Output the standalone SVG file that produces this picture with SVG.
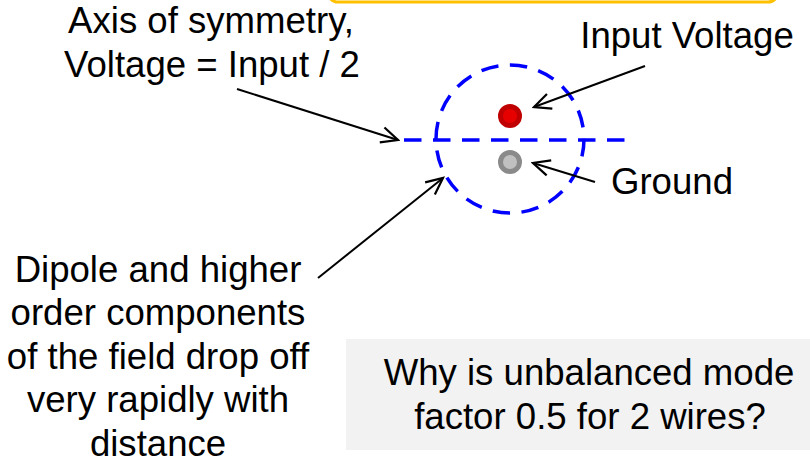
<svg xmlns="http://www.w3.org/2000/svg" width="810" height="463" viewBox="0 0 810 463">
<style>
  text { font-family: "Liberation Sans", Arial, sans-serif; font-size: 36.6px; fill: #000; text-anchor: middle; }
  .conn { stroke: #000; stroke-width: 2; fill: none; marker-end: url(#open); }
  .dash { stroke: #0000ff; stroke-width: 3.5; fill: none; stroke-dasharray: 17.5 11.5; }
</style>
<defs>
  <marker id="open" markerUnits="userSpaceOnUse" markerWidth="20" markerHeight="20" viewBox="-16 -8 18 16" refX="0" refY="0" orient="auto">
    <path d="M-15,-7 L0,0 L-15,7" fill="none" stroke="#000" stroke-width="2"/>
  </marker>
</defs>
<rect x="328" y="-40" width="450" height="42" rx="10" fill="#fff" stroke="#ffc000" stroke-width="3"/>
<g id="symmetry">
  <circle cx="510" cy="139" r="74" class="dash"/>
  <line x1="404" y1="140" x2="626" y2="140" class="dash"/>
</g>
<g id="input-wire">
  <circle cx="510" cy="116" r="9.5" fill="#e60000" stroke="#c00000" stroke-width="5"/>
</g>
<g id="ground-wire">
  <circle cx="510" cy="162" r="9.5" fill="#c0c0c0" stroke="#8a8a8a" stroke-width="5"/>
</g>
<g id="label-axis">
  <text x="211" y="33">Axis of symmetry,</text>
  <text x="212" y="77">Voltage = Input / 2</text>
</g>
<g id="label-input">
  <text x="687" y="48">Input Voltage</text>
</g>
<g id="label-ground">
  <text x="672" y="194">Ground</text>
</g>
<g id="label-dipole">
  <text x="158" y="281.5">Dipole and higher</text>
  <text x="158" y="325">order components</text>
  <text x="158" y="368.5">of the field drop off</text>
  <text x="158" y="412">very rapidly with</text>
  <text x="158" y="456">distance</text>
</g>
<g id="question">
  <rect x="346" y="339" width="464" height="111" fill="#f2f2f2"/>
  <text x="589" y="385">Why is unbalanced mode</text>
  <text x="590" y="429">factor 0.5 for 2 wires?</text>
</g>
<g id="connectors">
  <line x1="237" y1="89" x2="398" y2="140" class="conn"/>
  <line x1="645" y1="66" x2="534" y2="107" class="conn"/>
  <line x1="595" y1="182" x2="533" y2="163" class="conn"/>
  <line x1="318" y1="278" x2="443" y2="178" class="conn"/>
</g>
</svg>
